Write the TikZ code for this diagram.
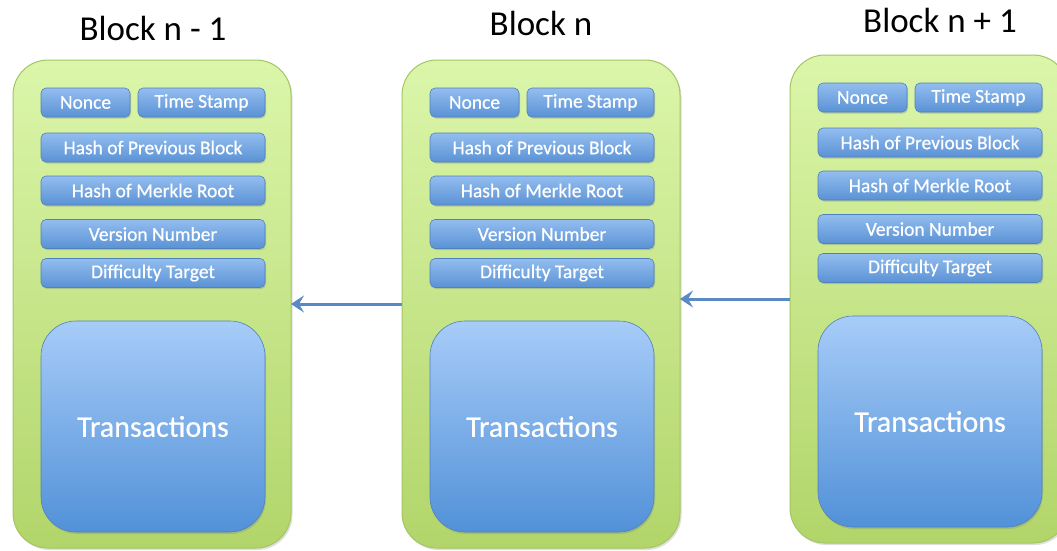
\documentclass[tikz,border=0pt]{standalone}
\usepackage{fontspec}
\setmainfont{Carlito}
\newfontfamily\labelfont[FakeBold=0.6]{Carlito}
\usetikzlibrary{arrows.meta,shadows}
\definecolor{gtop}{HTML}{DBF6AA}
\definecolor{gbot}{HTML}{B2D56A}
\definecolor{gline}{HTML}{A3C662}
\definecolor{btop}{HTML}{A7CCF8}
\definecolor{bbot}{HTML}{5291D8}
\definecolor{stop}{HTML}{93BDEF}
\definecolor{sbot}{HTML}{5A92D5}
\definecolor{bline}{HTML}{4F81BD}
\definecolor{arrowc}{HTML}{5A8AC6}
\tikzset{
  greenblk/.style={draw=gline, line width=1pt, rounded corners=35pt, top color=gtop, bottom color=gbot,
    minimum width=278pt, minimum height=488pt, inner sep=0pt, outer sep=0pt,
    drop shadow={shadow xshift=1.5pt, shadow yshift=-2pt, opacity=0.25}},
  smallbox/.style={draw=bline, line width=0.6pt, rounded corners=5pt, top color=stop, bottom color=sbot,
    minimum height=29pt, inner sep=0pt, outer sep=0pt, text=white, font=\labelfont\fontsize{19.5}{21}\selectfont,
    drop shadow={shadow xshift=1pt, shadow yshift=-1.5pt, opacity=0.35}},
  bigbox/.style={draw=bline, line width=0.6pt, rounded corners=35pt, top color=btop, bottom color=bbot,
    minimum width=224pt, minimum height=211pt, inner sep=0pt, outer sep=0pt, text=white,
    font=\labelfont\fontsize{30}{34}\selectfont,
    drop shadow={shadow xshift=1pt, shadow yshift=-2pt, opacity=0.3}},
  title/.style={font=\fontsize{35}{40}\selectfont, text=black, inner sep=0pt},
  chainarrow/.style={draw=arrowc, line width=3pt, -{Stealth[length=13pt,width=17pt,inset=5pt]}}
}
\newcommand\chainblock[3]{%
  \node[greenblk] (#1) at (#2+139,#3+244) {};
  \node[smallbox, minimum width=89pt] (#1nonce) at (#2+72.5,#3+42.5) {Nonce};
  \node[smallbox, minimum width=127pt] (#1time) at (#2+188.5,#3+42.5) {Time Stamp};
  \node[smallbox, minimum width=224pt] (#1prev) at (#2+140,#3+87.5) {Hash of Previous Block};
  \node[smallbox, minimum width=224pt] (#1merkle) at (#2+140,#3+130.5) {Hash of Merkle Root};
  \node[smallbox, minimum width=224pt] (#1ver) at (#2+140,#3+174) {Version Number};
  \node[smallbox, minimum width=224pt] (#1diff) at (#2+140,#3+213) {Difficulty Target};
  \node[bigbox] (#1tx) at (#2+140,#3+366.5) {Transactions};
}
\begin{document}
\begin{tikzpicture}[x=1pt,y=-1pt]
\useasboundingbox (0,0) rectangle (1057,550);
\clip (0,0) rectangle (1057,550);
\fill[white] (0,0) rectangle (1057,550);
\chainblock{ba}{13}{60}
\chainblock{bb}{402}{60}
\chainblock{bc}{790}{55}
\node[title] (ta) at (153,28) {Block n - 1};
\node[title] (tb) at (541,23) {Block n};
\node[title] (tc) at (940,20) {Block n + 1};
\draw[chainarrow] (bb.west) -- (ba.east);
\draw[chainarrow] (bc.west) -- (bc.west -| bb.east);
\end{tikzpicture}
\end{document}
